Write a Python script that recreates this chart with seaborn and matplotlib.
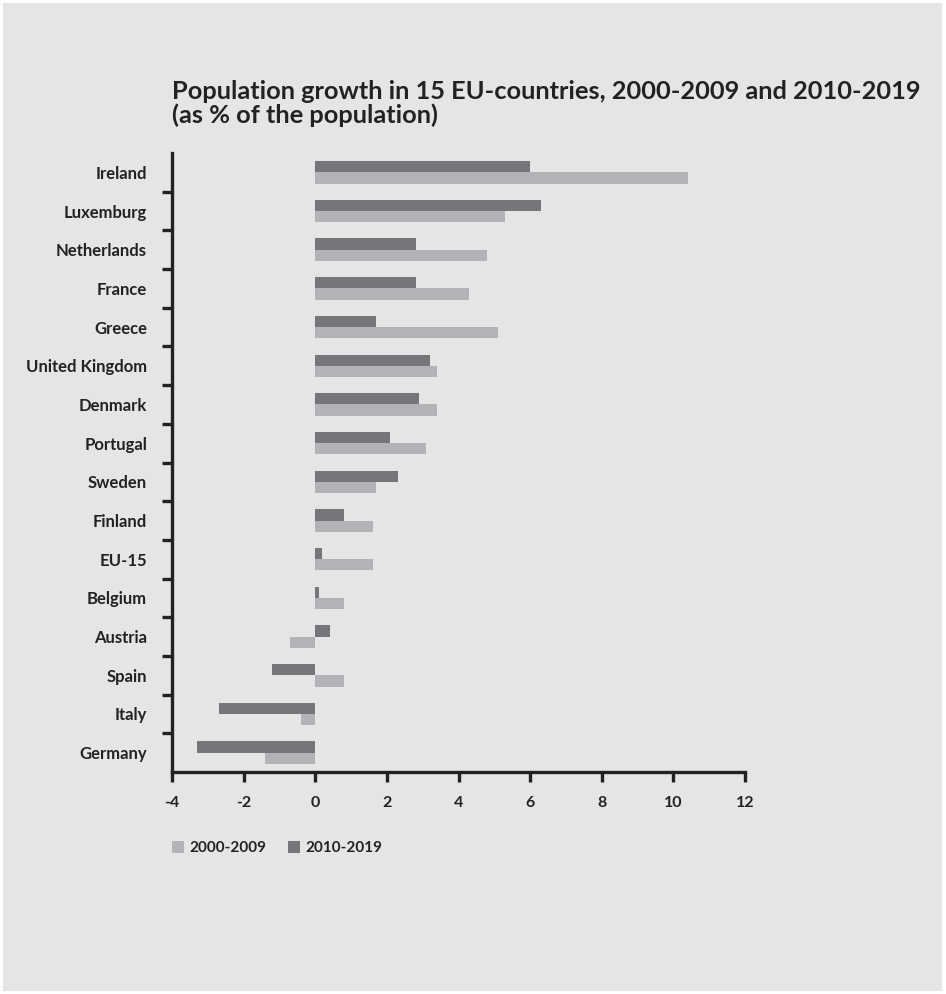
import matplotlib
matplotlib.use("Agg")
import matplotlib.pyplot as plt
import seaborn as sns
import pandas as pd
import numpy as np
from matplotlib.patches import Rectangle, Patch

countries = ["Ireland", "Luxemburg", "Netherlands", "France", "Greece", "United Kingdom",
             "Denmark", "Portugal", "Sweden", "Finland", "EU-15", "Belgium", "Austria",
             "Spain", "Italy", "Germany"]
growth_2000_2009 = [10.4, 5.3, 4.8, 4.3, 5.1, 3.4, 3.4, 3.1, 1.7, 1.6, 1.6, 0.8, -0.7, 0.8, -0.4, -1.4]
growth_2010_2019 = [6.0, 6.3, 2.8, 2.8, 1.7, 3.2, 2.9, 2.1, 2.3, 0.8, 0.2, 0.1, 0.4, -1.2, -2.7, -3.3]
periods = ["2000-2009", "2010-2019"]
x_ticks = [-4, -2, 0, 2, 4, 6, 8, 10, 12]

df = pd.DataFrame({
    "country": countries * 2,
    "period": [periods[0]] * len(countries) + [periods[1]] * len(countries),
    "value": growth_2000_2009 + growth_2010_2019,
})

BG = "#e5e5e5"
LIGHT = "#b2b3b6"
DARK = "#75767a"
INK = "#222222"

sns.set_theme(style="white")
plt.rcParams["font.family"] = ["Lato", "DejaVu Sans"]

W, H = 946, 994
fig = plt.figure(figsize=(W / 100, H / 100), dpi=100)
fig.patch.set_facecolor("white")
fig.patches.append(Rectangle((3 / W, 3 / H), (942 - 3) / W, (991 - 3) / H,
                             transform=fig.transFigure, facecolor=BG, edgecolor="none", zorder=-10))

ax = fig.add_axes([172 / W, 1 - 772 / H, (745 - 172) / W, (772 - 153) / H])
ax.set_facecolor(BG)

sns.barplot(data=df, y="country", x="value", hue="period", order=countries,
            hue_order=[periods[1], periods[0]],
            palette={periods[0]: LIGHT, periods[1]: DARK},
            orient="h", width=0.58, saturation=1, errorbar=None, ax=ax, legend=False,
            linewidth=0)

ax.set_xlim(-4, 12)
ax.set_ylim(len(countries) - 0.5, -0.5)
ax.set_xlabel("")
ax.set_ylabel("")
ax.set_xticks(x_ticks)
ax.set_xticklabels([str(t) for t in x_ticks], fontsize=11.5, fontweight="bold", color=INK)
ax.set_yticks(range(len(countries)))
ax.set_yticklabels(countries, fontsize=12, fontweight="bold", color=INK)
ax.set_yticks(np.arange(0.5, len(countries) - 1, 1.0), minor=True)

for s in ["top", "right"]:
    ax.spines[s].set_visible(False)
for s in ["left", "bottom"]:
    ax.spines[s].set_color(INK)
    ax.spines[s].set_linewidth(2.4)

ax.tick_params(axis="x", which="major", direction="out", length=7, width=2.4,
               color=INK, pad=10, bottom=True)
ax.tick_params(axis="y", which="major", length=0, pad=18, left=False)
ax.tick_params(axis="y", which="minor", direction="out", length=7, width=2.4,
               color=INK, left=True)
ax.grid(False)

fig.text(172 / W, 1 - 80 / H, "Population growth in 15 EU-countries, 2000-2009 and 2010-2019\n(as % of the population)",
         fontsize=18.3, fontweight="bold", color=INK, ha="left", va="top", linespacing=1.02)

handles = [Patch(facecolor=LIGHT, edgecolor="none"), Patch(facecolor=DARK, edgecolor="none")]
fig.legend(handles, periods, loc="center left", bbox_to_anchor=(158 / W, 1 - 848 / H),
           ncol=2, frameon=False, handlelength=0.8, handleheight=0.8, handletextpad=0.35,
           columnspacing=1.4, prop={"family": ["Lato", "DejaVu Sans"], "weight": "bold", "size": 11},
           labelcolor=INK)

fig.savefig("out.png", dpi=100, facecolor=fig.get_facecolor())
